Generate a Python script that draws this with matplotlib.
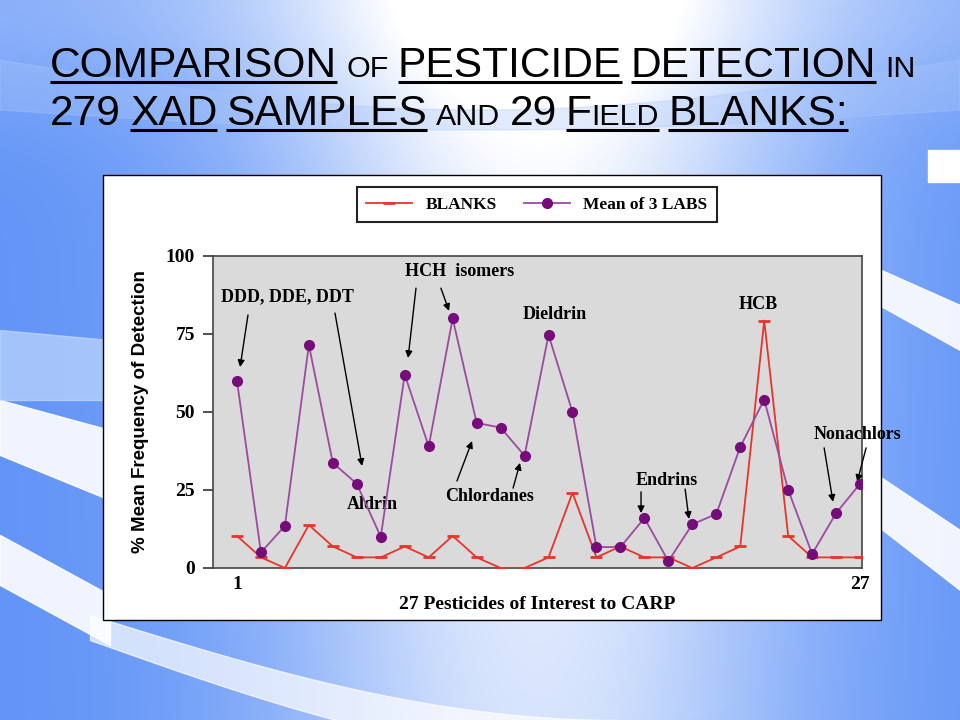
import numpy as np
import matplotlib.pyplot as plt
from matplotlib.patches import Rectangle
from matplotlib.font_manager import FontProperties

# данные: 27 пестицидов
pesticide_no = np.arange(1, 28)
blanks = [10.3, 3.4, 0.0, 13.8, 6.9, 3.4, 3.4, 6.9, 3.4, 10.3, 3.4, 0.0, 0.0, 3.4,
          24.1, 3.4, 6.9, 3.4, 3.4, 0.0, 3.4, 6.9, 79.3, 10.3, 3.4, 3.4, 3.4]
mean_3_labs = [60, 5, 13.5, 71.5, 33.7, 27, 10, 62, 39, 80, 46.5, 45, 36, 74.7,
               50, 6.7, 6.7, 16, 2.2, 14, 17.3, 38.8, 54, 25, 4.5, 17.6, 27]
y_ticks = [0, 25, 50, 75, 100]
x_tick_pos = [1, 27]
x_tick_labels = ['1', '27']

W, H = 960, 720
fig = plt.figure(figsize=(9.6, 7.2), dpi=100)

# фон слайда
bg = fig.add_axes([0, 0, 1, 1])
bg.set_xlim(0, W)
bg.set_ylim(H, 0)
bg.axis('off')
xx, yy = np.meshgrid(np.linspace(0, 1, 240), np.linspace(0, 1, 180))
blue = np.array([0.38, 0.58, 0.97])
t = np.exp(-((xx - 0.56) / 0.28) ** 2) * (0.75 + 0.25 * (1 - yy)) + 0.25 * np.exp(-(yy / 0.15) ** 2)
t = np.clip(t, 0, 1)[..., None]
img = blue * (1 - t) + np.array([1.0, 1.0, 1.0]) * t
bg.imshow(img, extent=[0, W, H, 0], aspect='auto', zorder=0)

# белые волны
xl = np.linspace(0, 110, 50)
bg.fill_between(xl, 400 + 30 * (xl / 110), 455 + 45 * (xl / 110), color='white', alpha=0.9, zorder=1)
bg.fill_between(xl, 535 + 60 * (xl / 110), 585 + 60 * (xl / 110), color='white', alpha=0.9, zorder=1)
bg.fill_between(xl, 330 + 10 * (xl / 110), 400 + 0 * xl, color='#cfe2ff', alpha=0.6, zorder=1)
xr = np.linspace(870, W, 50)
bg.fill_between(xr, 265 + 40 * ((xr - 870) / 90), 300 + 50 * ((xr - 870) / 90), color='white', alpha=0.9, zorder=1)
bg.fill_between(xr, 470 + 60 * ((xr - 870) / 90), 520 + 70 * ((xr - 870) / 90), color='white', alpha=0.9, zorder=1)
xb = np.linspace(90, 620, 100)
s = np.sin((xb - 90) / 530 * np.pi / 2)
bg.fill_between(xb, 615 + 105 * s, 640 + 120 * s, color='white', alpha=0.7, zorder=1)
xt = np.linspace(0, W, 100)
bg.fill_between(xt, 60 + 50 * np.sin(xt / W * np.pi), 110 + 20 * np.sin(xt / W * np.pi),
                color='#a9c6fa', alpha=0.35, zorder=1)
bg.add_patch(Rectangle((928, 150), 32, 32, color='white', zorder=2))

# белая рамка диаграммы
bg.add_patch(Rectangle((103, 175), 778, 445, facecolor='white', edgecolor='black', lw=1.0, zorder=3))

# заголовок (капитель имитируется мелкими прописными)
renderer = fig.canvas.get_renderer()
lines = [
    (77, [("COMPARISON", 1, True), ("OF", 0, False), ("PESTICIDE", 1, True),
          ("DETECTION", 1, True), ("IN", 0, False)]),
    (125, [("279", 1, False), ("XAD", 1, True), ("SAMPLES", 1, True), ("AND", 0, False),
           ("29", 1, False), ("F|IELD", 1, True), ("BLANKS:", 1, True)]),
]
gap = 9


def layout(pieces, big, small, draw=False, base=0):
    x = 50
    for s, is_big, ul in pieces:
        parts = s.split('|')
        sizes = [big if is_big else small] + [small] * (len(parts) - 1)
        x0 = x
        for p, sz in zip(parts, sizes):
            fp = FontProperties(family='Liberation Sans', size=sz)
            w, h, d = renderer.get_text_width_height_descent(p, fp, ismath=False)
            if draw:
                fig.text(x / W, 1 - base / H, p, fontproperties=fp, va='baseline', ha='left', color='black')
            x += w
        if ul and draw:
            bg.plot([x0, x], [base + 5, base + 5], color='black', lw=2.2, solid_capstyle='butt', zorder=5)
        x += gap
    return x - gap


k = (918 - 50) / (layout(lines[0][1], 28, 20) - 50)
for base, pieces in lines:
    layout(pieces, 28 * k, 20 * k, draw=True, base=base)

# основная диаграмма
ax = fig.add_axes([213 / W, 1 - 568 / H, (862 - 213) / W, 312 / H])
ax.set_facecolor('#dadada')
ax.plot(pesticide_no, blanks, color='#e8342a', lw=1.3, marker='_', markersize=9,
        markeredgewidth=2, markeredgecolor='#e8342a', label='BLANKS', zorder=3)
ax.plot(pesticide_no, mean_3_labs, color='#9b4aa0', lw=1.3, marker='o', markersize=7,
        markerfacecolor='#760c7a', markeredgecolor='#760c7a', label='Mean of 3 LABS', zorder=4)
ax.set_xlim(0, 27.08)
ax.set_ylim(0, 100)
ax.set_yticks(y_ticks)
ax.set_xticks(x_tick_pos)
ax.set_xticklabels(x_tick_labels)
for sp in ax.spines.values():
    sp.set_color('#444444')
    sp.set_linewidth(1.2)
ax.tick_params(axis='y', direction='out', length=7, width=1.2, color='#333333', pad=6)
ax.tick_params(axis='x', length=0, pad=6)
for lab in ax.get_yticklabels() + ax.get_xticklabels():
    lab.set_fontfamily('Liberation Serif')
    lab.set_fontweight('bold')
    lab.set_fontsize(14)
ax.set_ylabel('% Mean Frequency of Detection', family='Liberation Sans', weight='bold',
              fontsize=13.5, labelpad=12)
ax.set_xlabel('27 Pesticides of Interest to CARP', family='Liberation Serif', weight='bold',
              fontsize=14, labelpad=2)

# подписи и стрелки
font = dict(family='Liberation Serif', weight='bold', fontsize=13)
arr = dict(arrowstyle='-|>', color='black', lw=1.0, mutation_scale=10, shrinkA=0, shrinkB=0)
ax.text(3.09, 86.9, 'DDD, DDE, DDT', ha='center', va='center', **font)
ax.annotate('', xy=(1.13, 64.4), xytext=(1.46, 81.1), arrowprops=arr)
ax.annotate('', xy=(6.22, 32.7), xytext=(5.09, 81.7), arrowprops=arr)
ax.text(10.27, 94.9, 'HCH  isomers', ha='center', va='center', **font)
ax.annotate('', xy=(8.14, 67.3), xytext=(8.47, 89.7), arrowprops=arr)
ax.annotate('', xy=(9.85, 82.4), xytext=(9.51, 89.7), arrowprops=arr)
ax.text(14.27, 81.4, 'Dieldrin', ha='center', va='center', **font)
ax.text(6.63, 20.2, 'Aldrin', ha='center', va='center', **font)
ax.text(11.56, 22.8, 'Chlordanes', ha='center', va='center', **font)
ax.annotate('', xy=(10.81, 40.7), xytext=(10.18, 27.9), arrowprops=arr)
ax.annotate('', xy=(12.81, 33.7), xytext=(12.52, 25.6), arrowprops=arr)
ax.text(18.95, 27.9, 'Endrins', ha='center', va='center', **font)
ax.annotate('', xy=(17.86, 17.6), xytext=(17.86, 24.4), arrowprops=arr)
ax.annotate('', xy=(19.86, 15.7), xytext=(19.70, 25.3), arrowprops=arr)
ax.text(22.74, 84.3, 'HCB', ha='center', va='center', **font)
ax.text(26.88, 42.9, 'Nonachlors', ha='center', va='center', clip_on=False, **font)
ax.annotate('', xy=(25.87, 21.2), xytext=(25.5, 38.5), arrowprops=arr)
ax.annotate('', xy=(26.88, 27.6), xytext=(27.25, 38.5), arrowprops=arr, annotation_clip=False)

# легенда
leg = fig.legend(*ax.get_legend_handles_labels(), loc='center', bbox_to_anchor=(537 / W, 1 - 204.5 / H),
                 ncol=2, frameon=True, fancybox=False, framealpha=1, edgecolor='#222222',
                 prop=FontProperties(family='Liberation Serif', weight='bold', size=12.5),
                 handlelength=2.6, columnspacing=1.6, borderpad=0.55)
leg.get_frame().set_linewidth(1.5)

fig.savefig('out.png', dpi=100)
